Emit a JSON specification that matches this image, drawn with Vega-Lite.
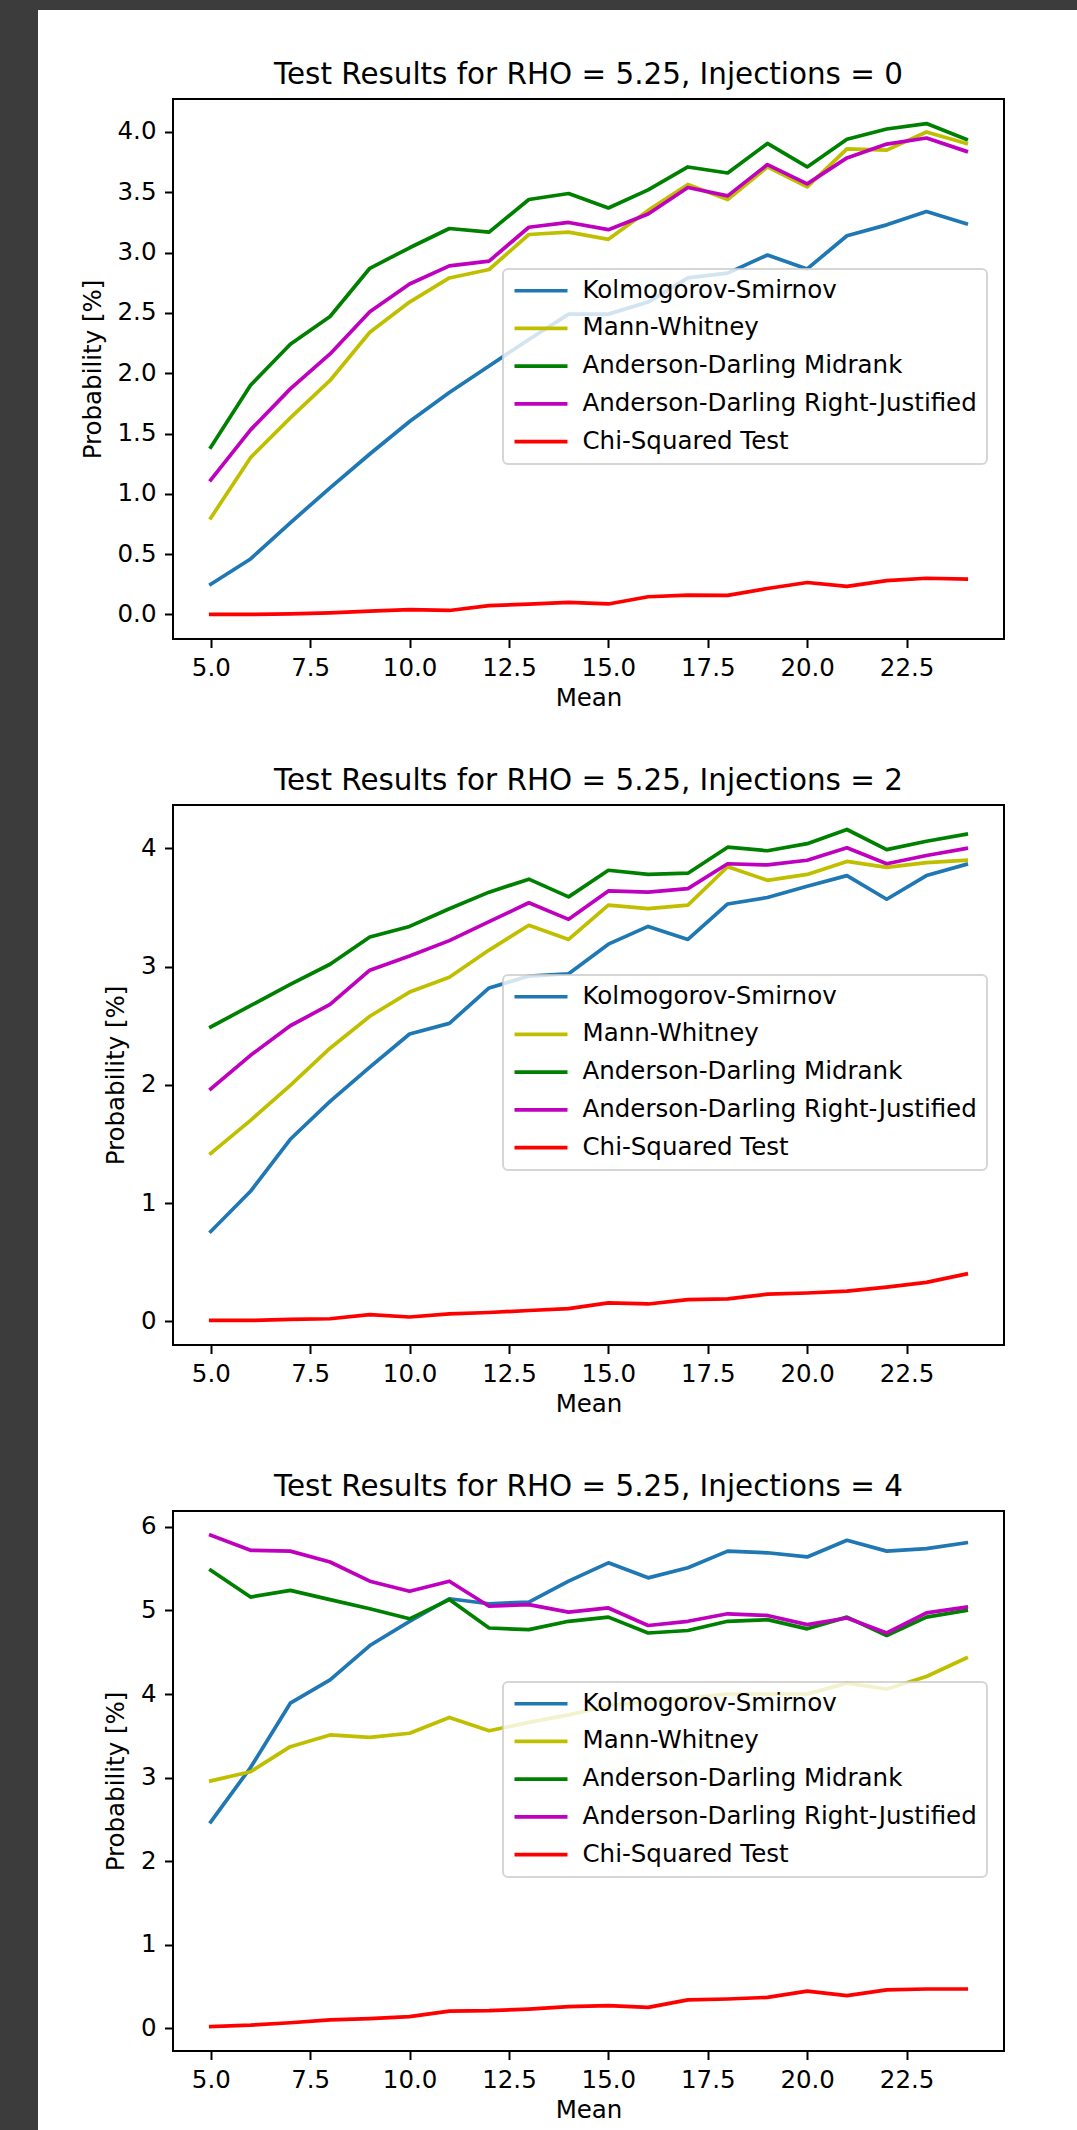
{
  "$schema": "https://vega.github.io/schema/vega-lite/v6.json",
  "padding": 0,
  "background": "white",
  "datasets": {
    "inj0": [
      {"mean": 5, "test": "Kolmogorov-Smirnov", "prob": 0.25},
      {"mean": 6, "test": "Kolmogorov-Smirnov", "prob": 0.46},
      {"mean": 7, "test": "Kolmogorov-Smirnov", "prob": 0.76},
      {"mean": 8, "test": "Kolmogorov-Smirnov", "prob": 1.05},
      {"mean": 9, "test": "Kolmogorov-Smirnov", "prob": 1.33},
      {"mean": 10, "test": "Kolmogorov-Smirnov", "prob": 1.6},
      {"mean": 11, "test": "Kolmogorov-Smirnov", "prob": 1.84},
      {"mean": 12, "test": "Kolmogorov-Smirnov", "prob": 2.06},
      {"mean": 13, "test": "Kolmogorov-Smirnov", "prob": 2.28},
      {"mean": 14, "test": "Kolmogorov-Smirnov", "prob": 2.49},
      {"mean": 15, "test": "Kolmogorov-Smirnov", "prob": 2.49},
      {"mean": 16, "test": "Kolmogorov-Smirnov", "prob": 2.59},
      {"mean": 17, "test": "Kolmogorov-Smirnov", "prob": 2.79},
      {"mean": 18, "test": "Kolmogorov-Smirnov", "prob": 2.83},
      {"mean": 19, "test": "Kolmogorov-Smirnov", "prob": 2.98},
      {"mean": 20, "test": "Kolmogorov-Smirnov", "prob": 2.865},
      {"mean": 21, "test": "Kolmogorov-Smirnov", "prob": 3.14},
      {"mean": 22, "test": "Kolmogorov-Smirnov", "prob": 3.23},
      {"mean": 23, "test": "Kolmogorov-Smirnov", "prob": 3.34},
      {"mean": 24, "test": "Kolmogorov-Smirnov", "prob": 3.24},
      {"mean": 5, "test": "Mann-Whitney", "prob": 0.8},
      {"mean": 6, "test": "Mann-Whitney", "prob": 1.3},
      {"mean": 7, "test": "Mann-Whitney", "prob": 1.63},
      {"mean": 8, "test": "Mann-Whitney", "prob": 1.94},
      {"mean": 9, "test": "Mann-Whitney", "prob": 2.34},
      {"mean": 10, "test": "Mann-Whitney", "prob": 2.59},
      {"mean": 11, "test": "Mann-Whitney", "prob": 2.79},
      {"mean": 12, "test": "Mann-Whitney", "prob": 2.86},
      {"mean": 13, "test": "Mann-Whitney", "prob": 3.15},
      {"mean": 14, "test": "Mann-Whitney", "prob": 3.17},
      {"mean": 15, "test": "Mann-Whitney", "prob": 3.11},
      {"mean": 16, "test": "Mann-Whitney", "prob": 3.35},
      {"mean": 17, "test": "Mann-Whitney", "prob": 3.565},
      {"mean": 18, "test": "Mann-Whitney", "prob": 3.44},
      {"mean": 19, "test": "Mann-Whitney", "prob": 3.71},
      {"mean": 20, "test": "Mann-Whitney", "prob": 3.545},
      {"mean": 21, "test": "Mann-Whitney", "prob": 3.86},
      {"mean": 22, "test": "Mann-Whitney", "prob": 3.85},
      {"mean": 23, "test": "Mann-Whitney", "prob": 4.0},
      {"mean": 24, "test": "Mann-Whitney", "prob": 3.905},
      {"mean": 5, "test": "Anderson-Darling Midrank", "prob": 1.387},
      {"mean": 6, "test": "Anderson-Darling Midrank", "prob": 1.9},
      {"mean": 7, "test": "Anderson-Darling Midrank", "prob": 2.24},
      {"mean": 8, "test": "Anderson-Darling Midrank", "prob": 2.47},
      {"mean": 9, "test": "Anderson-Darling Midrank", "prob": 2.87},
      {"mean": 10, "test": "Anderson-Darling Midrank", "prob": 3.04},
      {"mean": 11, "test": "Anderson-Darling Midrank", "prob": 3.2},
      {"mean": 12, "test": "Anderson-Darling Midrank", "prob": 3.17},
      {"mean": 13, "test": "Anderson-Darling Midrank", "prob": 3.44},
      {"mean": 14, "test": "Anderson-Darling Midrank", "prob": 3.49},
      {"mean": 15, "test": "Anderson-Darling Midrank", "prob": 3.37},
      {"mean": 16, "test": "Anderson-Darling Midrank", "prob": 3.52},
      {"mean": 17, "test": "Anderson-Darling Midrank", "prob": 3.71},
      {"mean": 18, "test": "Anderson-Darling Midrank", "prob": 3.66},
      {"mean": 19, "test": "Anderson-Darling Midrank", "prob": 3.905},
      {"mean": 20, "test": "Anderson-Darling Midrank", "prob": 3.71},
      {"mean": 21, "test": "Anderson-Darling Midrank", "prob": 3.94},
      {"mean": 22, "test": "Anderson-Darling Midrank", "prob": 4.025},
      {"mean": 23, "test": "Anderson-Darling Midrank", "prob": 4.07},
      {"mean": 24, "test": "Anderson-Darling Midrank", "prob": 3.94},
      {"mean": 5, "test": "Anderson-Darling Right-Justified", "prob": 1.115},
      {"mean": 6, "test": "Anderson-Darling Right-Justified", "prob": 1.53},
      {"mean": 7, "test": "Anderson-Darling Right-Justified", "prob": 1.87},
      {"mean": 8, "test": "Anderson-Darling Right-Justified", "prob": 2.16},
      {"mean": 9, "test": "Anderson-Darling Right-Justified", "prob": 2.51},
      {"mean": 10, "test": "Anderson-Darling Right-Justified", "prob": 2.74},
      {"mean": 11, "test": "Anderson-Darling Right-Justified", "prob": 2.89},
      {"mean": 12, "test": "Anderson-Darling Right-Justified", "prob": 2.93},
      {"mean": 13, "test": "Anderson-Darling Right-Justified", "prob": 3.21},
      {"mean": 14, "test": "Anderson-Darling Right-Justified", "prob": 3.25},
      {"mean": 15, "test": "Anderson-Darling Right-Justified", "prob": 3.19},
      {"mean": 16, "test": "Anderson-Darling Right-Justified", "prob": 3.32},
      {"mean": 17, "test": "Anderson-Darling Right-Justified", "prob": 3.54},
      {"mean": 18, "test": "Anderson-Darling Right-Justified", "prob": 3.47},
      {"mean": 19, "test": "Anderson-Darling Right-Justified", "prob": 3.73},
      {"mean": 20, "test": "Anderson-Darling Right-Justified", "prob": 3.57},
      {"mean": 21, "test": "Anderson-Darling Right-Justified", "prob": 3.785},
      {"mean": 22, "test": "Anderson-Darling Right-Justified", "prob": 3.9},
      {"mean": 23, "test": "Anderson-Darling Right-Justified", "prob": 3.95},
      {"mean": 24, "test": "Anderson-Darling Right-Justified", "prob": 3.84},
      {"mean": 5, "test": "Chi-Squared Test", "prob": 0.0},
      {"mean": 6, "test": "Chi-Squared Test", "prob": 0.0},
      {"mean": 7, "test": "Chi-Squared Test", "prob": 0.005},
      {"mean": 8, "test": "Chi-Squared Test", "prob": 0.013},
      {"mean": 9, "test": "Chi-Squared Test", "prob": 0.027},
      {"mean": 10, "test": "Chi-Squared Test", "prob": 0.04},
      {"mean": 11, "test": "Chi-Squared Test", "prob": 0.033},
      {"mean": 12, "test": "Chi-Squared Test", "prob": 0.073},
      {"mean": 13, "test": "Chi-Squared Test", "prob": 0.085},
      {"mean": 14, "test": "Chi-Squared Test", "prob": 0.1},
      {"mean": 15, "test": "Chi-Squared Test", "prob": 0.087},
      {"mean": 16, "test": "Chi-Squared Test", "prob": 0.147},
      {"mean": 17, "test": "Chi-Squared Test", "prob": 0.16},
      {"mean": 18, "test": "Chi-Squared Test", "prob": 0.158},
      {"mean": 19, "test": "Chi-Squared Test", "prob": 0.215},
      {"mean": 20, "test": "Chi-Squared Test", "prob": 0.265},
      {"mean": 21, "test": "Chi-Squared Test", "prob": 0.233},
      {"mean": 22, "test": "Chi-Squared Test", "prob": 0.28},
      {"mean": 23, "test": "Chi-Squared Test", "prob": 0.3},
      {"mean": 24, "test": "Chi-Squared Test", "prob": 0.293}
    ],
    "inj2": [
      {"mean": 5, "test": "Kolmogorov-Smirnov", "prob": 0.76},
      {"mean": 6, "test": "Kolmogorov-Smirnov", "prob": 1.1},
      {"mean": 7, "test": "Kolmogorov-Smirnov", "prob": 1.54},
      {"mean": 8, "test": "Kolmogorov-Smirnov", "prob": 1.86},
      {"mean": 9, "test": "Kolmogorov-Smirnov", "prob": 2.15},
      {"mean": 10, "test": "Kolmogorov-Smirnov", "prob": 2.43},
      {"mean": 11, "test": "Kolmogorov-Smirnov", "prob": 2.52},
      {"mean": 12, "test": "Kolmogorov-Smirnov", "prob": 2.82},
      {"mean": 13, "test": "Kolmogorov-Smirnov", "prob": 2.92},
      {"mean": 14, "test": "Kolmogorov-Smirnov", "prob": 2.94},
      {"mean": 15, "test": "Kolmogorov-Smirnov", "prob": 3.19},
      {"mean": 16, "test": "Kolmogorov-Smirnov", "prob": 3.34},
      {"mean": 17, "test": "Kolmogorov-Smirnov", "prob": 3.23},
      {"mean": 18, "test": "Kolmogorov-Smirnov", "prob": 3.53},
      {"mean": 19, "test": "Kolmogorov-Smirnov", "prob": 3.585},
      {"mean": 20, "test": "Kolmogorov-Smirnov", "prob": 3.68},
      {"mean": 21, "test": "Kolmogorov-Smirnov", "prob": 3.77},
      {"mean": 22, "test": "Kolmogorov-Smirnov", "prob": 3.57},
      {"mean": 23, "test": "Kolmogorov-Smirnov", "prob": 3.77},
      {"mean": 24, "test": "Kolmogorov-Smirnov", "prob": 3.865},
      {"mean": 5, "test": "Mann-Whitney", "prob": 1.42},
      {"mean": 6, "test": "Mann-Whitney", "prob": 1.7},
      {"mean": 7, "test": "Mann-Whitney", "prob": 1.995},
      {"mean": 8, "test": "Mann-Whitney", "prob": 2.31},
      {"mean": 9, "test": "Mann-Whitney", "prob": 2.58},
      {"mean": 10, "test": "Mann-Whitney", "prob": 2.785},
      {"mean": 11, "test": "Mann-Whitney", "prob": 2.91},
      {"mean": 12, "test": "Mann-Whitney", "prob": 3.14},
      {"mean": 13, "test": "Mann-Whitney", "prob": 3.35},
      {"mean": 14, "test": "Mann-Whitney", "prob": 3.23},
      {"mean": 15, "test": "Mann-Whitney", "prob": 3.52},
      {"mean": 16, "test": "Mann-Whitney", "prob": 3.49},
      {"mean": 17, "test": "Mann-Whitney", "prob": 3.52},
      {"mean": 18, "test": "Mann-Whitney", "prob": 3.845},
      {"mean": 19, "test": "Mann-Whitney", "prob": 3.73},
      {"mean": 20, "test": "Mann-Whitney", "prob": 3.78},
      {"mean": 21, "test": "Mann-Whitney", "prob": 3.89},
      {"mean": 22, "test": "Mann-Whitney", "prob": 3.84},
      {"mean": 23, "test": "Mann-Whitney", "prob": 3.88},
      {"mean": 24, "test": "Mann-Whitney", "prob": 3.9},
      {"mean": 5, "test": "Anderson-Darling Midrank", "prob": 2.49},
      {"mean": 6, "test": "Anderson-Darling Midrank", "prob": 2.67},
      {"mean": 7, "test": "Anderson-Darling Midrank", "prob": 2.85},
      {"mean": 8, "test": "Anderson-Darling Midrank", "prob": 3.02},
      {"mean": 9, "test": "Anderson-Darling Midrank", "prob": 3.25},
      {"mean": 10, "test": "Anderson-Darling Midrank", "prob": 3.34},
      {"mean": 11, "test": "Anderson-Darling Midrank", "prob": 3.49},
      {"mean": 12, "test": "Anderson-Darling Midrank", "prob": 3.63},
      {"mean": 13, "test": "Anderson-Darling Midrank", "prob": 3.74},
      {"mean": 14, "test": "Anderson-Darling Midrank", "prob": 3.59},
      {"mean": 15, "test": "Anderson-Darling Midrank", "prob": 3.815},
      {"mean": 16, "test": "Anderson-Darling Midrank", "prob": 3.78},
      {"mean": 17, "test": "Anderson-Darling Midrank", "prob": 3.79},
      {"mean": 18, "test": "Anderson-Darling Midrank", "prob": 4.01},
      {"mean": 19, "test": "Anderson-Darling Midrank", "prob": 3.98},
      {"mean": 20, "test": "Anderson-Darling Midrank", "prob": 4.04},
      {"mean": 21, "test": "Anderson-Darling Midrank", "prob": 4.16},
      {"mean": 22, "test": "Anderson-Darling Midrank", "prob": 3.99},
      {"mean": 23, "test": "Anderson-Darling Midrank", "prob": 4.06},
      {"mean": 24, "test": "Anderson-Darling Midrank", "prob": 4.12},
      {"mean": 5, "test": "Anderson-Darling Right-Justified", "prob": 1.965},
      {"mean": 6, "test": "Anderson-Darling Right-Justified", "prob": 2.25},
      {"mean": 7, "test": "Anderson-Darling Right-Justified", "prob": 2.5},
      {"mean": 8, "test": "Anderson-Darling Right-Justified", "prob": 2.68},
      {"mean": 9, "test": "Anderson-Darling Right-Justified", "prob": 2.97},
      {"mean": 10, "test": "Anderson-Darling Right-Justified", "prob": 3.09},
      {"mean": 11, "test": "Anderson-Darling Right-Justified", "prob": 3.22},
      {"mean": 12, "test": "Anderson-Darling Right-Justified", "prob": 3.38},
      {"mean": 13, "test": "Anderson-Darling Right-Justified", "prob": 3.54},
      {"mean": 14, "test": "Anderson-Darling Right-Justified", "prob": 3.4},
      {"mean": 15, "test": "Anderson-Darling Right-Justified", "prob": 3.64},
      {"mean": 16, "test": "Anderson-Darling Right-Justified", "prob": 3.63},
      {"mean": 17, "test": "Anderson-Darling Right-Justified", "prob": 3.66},
      {"mean": 18, "test": "Anderson-Darling Right-Justified", "prob": 3.87},
      {"mean": 19, "test": "Anderson-Darling Right-Justified", "prob": 3.86},
      {"mean": 20, "test": "Anderson-Darling Right-Justified", "prob": 3.9},
      {"mean": 21, "test": "Anderson-Darling Right-Justified", "prob": 4.005},
      {"mean": 22, "test": "Anderson-Darling Right-Justified", "prob": 3.87},
      {"mean": 23, "test": "Anderson-Darling Right-Justified", "prob": 3.94},
      {"mean": 24, "test": "Anderson-Darling Right-Justified", "prob": 4.0},
      {"mean": 5, "test": "Chi-Squared Test", "prob": 0.008},
      {"mean": 6, "test": "Chi-Squared Test", "prob": 0.008},
      {"mean": 7, "test": "Chi-Squared Test", "prob": 0.016},
      {"mean": 8, "test": "Chi-Squared Test", "prob": 0.022},
      {"mean": 9, "test": "Chi-Squared Test", "prob": 0.057},
      {"mean": 10, "test": "Chi-Squared Test", "prob": 0.037},
      {"mean": 11, "test": "Chi-Squared Test", "prob": 0.063},
      {"mean": 12, "test": "Chi-Squared Test", "prob": 0.075},
      {"mean": 13, "test": "Chi-Squared Test", "prob": 0.092},
      {"mean": 14, "test": "Chi-Squared Test", "prob": 0.107},
      {"mean": 15, "test": "Chi-Squared Test", "prob": 0.156},
      {"mean": 16, "test": "Chi-Squared Test", "prob": 0.147},
      {"mean": 17, "test": "Chi-Squared Test", "prob": 0.183},
      {"mean": 18, "test": "Chi-Squared Test", "prob": 0.19},
      {"mean": 19, "test": "Chi-Squared Test", "prob": 0.23},
      {"mean": 20, "test": "Chi-Squared Test", "prob": 0.24},
      {"mean": 21, "test": "Chi-Squared Test", "prob": 0.256},
      {"mean": 22, "test": "Chi-Squared Test", "prob": 0.29},
      {"mean": 23, "test": "Chi-Squared Test", "prob": 0.33},
      {"mean": 24, "test": "Chi-Squared Test", "prob": 0.4}
    ],
    "inj4": [
      {"mean": 5, "test": "Kolmogorov-Smirnov", "prob": 2.47},
      {"mean": 6, "test": "Kolmogorov-Smirnov", "prob": 3.12},
      {"mean": 7, "test": "Kolmogorov-Smirnov", "prob": 3.89},
      {"mean": 8, "test": "Kolmogorov-Smirnov", "prob": 4.17},
      {"mean": 9, "test": "Kolmogorov-Smirnov", "prob": 4.58},
      {"mean": 10, "test": "Kolmogorov-Smirnov", "prob": 4.87},
      {"mean": 11, "test": "Kolmogorov-Smirnov", "prob": 5.14},
      {"mean": 12, "test": "Kolmogorov-Smirnov", "prob": 5.08},
      {"mean": 13, "test": "Kolmogorov-Smirnov", "prob": 5.1},
      {"mean": 14, "test": "Kolmogorov-Smirnov", "prob": 5.35},
      {"mean": 15, "test": "Kolmogorov-Smirnov", "prob": 5.57},
      {"mean": 16, "test": "Kolmogorov-Smirnov", "prob": 5.39},
      {"mean": 17, "test": "Kolmogorov-Smirnov", "prob": 5.51},
      {"mean": 18, "test": "Kolmogorov-Smirnov", "prob": 5.71},
      {"mean": 19, "test": "Kolmogorov-Smirnov", "prob": 5.69},
      {"mean": 20, "test": "Kolmogorov-Smirnov", "prob": 5.64},
      {"mean": 21, "test": "Kolmogorov-Smirnov", "prob": 5.84},
      {"mean": 22, "test": "Kolmogorov-Smirnov", "prob": 5.71},
      {"mean": 23, "test": "Kolmogorov-Smirnov", "prob": 5.74},
      {"mean": 24, "test": "Kolmogorov-Smirnov", "prob": 5.81},
      {"mean": 5, "test": "Mann-Whitney", "prob": 2.96},
      {"mean": 6, "test": "Mann-Whitney", "prob": 3.07},
      {"mean": 7, "test": "Mann-Whitney", "prob": 3.37},
      {"mean": 8, "test": "Mann-Whitney", "prob": 3.51},
      {"mean": 9, "test": "Mann-Whitney", "prob": 3.48},
      {"mean": 10, "test": "Mann-Whitney", "prob": 3.53},
      {"mean": 11, "test": "Mann-Whitney", "prob": 3.72},
      {"mean": 12, "test": "Mann-Whitney", "prob": 3.56},
      {"mean": 13, "test": "Mann-Whitney", "prob": 3.66},
      {"mean": 14, "test": "Mann-Whitney", "prob": 3.75},
      {"mean": 15, "test": "Mann-Whitney", "prob": 3.86},
      {"mean": 16, "test": "Mann-Whitney", "prob": 3.91},
      {"mean": 17, "test": "Mann-Whitney", "prob": 3.95},
      {"mean": 18, "test": "Mann-Whitney", "prob": 4.0},
      {"mean": 19, "test": "Mann-Whitney", "prob": 4.0},
      {"mean": 20, "test": "Mann-Whitney", "prob": 4.0},
      {"mean": 21, "test": "Mann-Whitney", "prob": 4.13},
      {"mean": 22, "test": "Mann-Whitney", "prob": 4.06},
      {"mean": 23, "test": "Mann-Whitney", "prob": 4.21},
      {"mean": 24, "test": "Mann-Whitney", "prob": 4.43},
      {"mean": 5, "test": "Anderson-Darling Midrank", "prob": 5.48},
      {"mean": 6, "test": "Anderson-Darling Midrank", "prob": 5.16},
      {"mean": 7, "test": "Anderson-Darling Midrank", "prob": 5.24},
      {"mean": 8, "test": "Anderson-Darling Midrank", "prob": 5.13},
      {"mean": 9, "test": "Anderson-Darling Midrank", "prob": 5.02},
      {"mean": 10, "test": "Anderson-Darling Midrank", "prob": 4.9},
      {"mean": 11, "test": "Anderson-Darling Midrank", "prob": 5.13},
      {"mean": 12, "test": "Anderson-Darling Midrank", "prob": 4.79},
      {"mean": 13, "test": "Anderson-Darling Midrank", "prob": 4.77},
      {"mean": 14, "test": "Anderson-Darling Midrank", "prob": 4.87},
      {"mean": 15, "test": "Anderson-Darling Midrank", "prob": 4.92},
      {"mean": 16, "test": "Anderson-Darling Midrank", "prob": 4.73},
      {"mean": 17, "test": "Anderson-Darling Midrank", "prob": 4.76},
      {"mean": 18, "test": "Anderson-Darling Midrank", "prob": 4.87},
      {"mean": 19, "test": "Anderson-Darling Midrank", "prob": 4.89},
      {"mean": 20, "test": "Anderson-Darling Midrank", "prob": 4.78},
      {"mean": 21, "test": "Anderson-Darling Midrank", "prob": 4.92},
      {"mean": 22, "test": "Anderson-Darling Midrank", "prob": 4.7},
      {"mean": 23, "test": "Anderson-Darling Midrank", "prob": 4.92},
      {"mean": 24, "test": "Anderson-Darling Midrank", "prob": 5.0},
      {"mean": 5, "test": "Anderson-Darling Right-Justified", "prob": 5.9},
      {"mean": 6, "test": "Anderson-Darling Right-Justified", "prob": 5.72},
      {"mean": 7, "test": "Anderson-Darling Right-Justified", "prob": 5.71},
      {"mean": 8, "test": "Anderson-Darling Right-Justified", "prob": 5.58},
      {"mean": 9, "test": "Anderson-Darling Right-Justified", "prob": 5.35},
      {"mean": 10, "test": "Anderson-Darling Right-Justified", "prob": 5.23},
      {"mean": 11, "test": "Anderson-Darling Right-Justified", "prob": 5.35},
      {"mean": 12, "test": "Anderson-Darling Right-Justified", "prob": 5.05},
      {"mean": 13, "test": "Anderson-Darling Right-Justified", "prob": 5.07},
      {"mean": 14, "test": "Anderson-Darling Right-Justified", "prob": 4.98},
      {"mean": 15, "test": "Anderson-Darling Right-Justified", "prob": 5.03},
      {"mean": 16, "test": "Anderson-Darling Right-Justified", "prob": 4.82},
      {"mean": 17, "test": "Anderson-Darling Right-Justified", "prob": 4.87},
      {"mean": 18, "test": "Anderson-Darling Right-Justified", "prob": 4.96},
      {"mean": 19, "test": "Anderson-Darling Right-Justified", "prob": 4.94},
      {"mean": 20, "test": "Anderson-Darling Right-Justified", "prob": 4.83},
      {"mean": 21, "test": "Anderson-Darling Right-Justified", "prob": 4.91},
      {"mean": 22, "test": "Anderson-Darling Right-Justified", "prob": 4.73},
      {"mean": 23, "test": "Anderson-Darling Right-Justified", "prob": 4.97},
      {"mean": 24, "test": "Anderson-Darling Right-Justified", "prob": 5.04},
      {"mean": 5, "test": "Chi-Squared Test", "prob": 0.02},
      {"mean": 6, "test": "Chi-Squared Test", "prob": 0.037},
      {"mean": 7, "test": "Chi-Squared Test", "prob": 0.066},
      {"mean": 8, "test": "Chi-Squared Test", "prob": 0.1},
      {"mean": 9, "test": "Chi-Squared Test", "prob": 0.115},
      {"mean": 10, "test": "Chi-Squared Test", "prob": 0.14},
      {"mean": 11, "test": "Chi-Squared Test", "prob": 0.206},
      {"mean": 12, "test": "Chi-Squared Test", "prob": 0.21},
      {"mean": 13, "test": "Chi-Squared Test", "prob": 0.23},
      {"mean": 14, "test": "Chi-Squared Test", "prob": 0.26},
      {"mean": 15, "test": "Chi-Squared Test", "prob": 0.27},
      {"mean": 16, "test": "Chi-Squared Test", "prob": 0.25},
      {"mean": 17, "test": "Chi-Squared Test", "prob": 0.34},
      {"mean": 18, "test": "Chi-Squared Test", "prob": 0.35},
      {"mean": 19, "test": "Chi-Squared Test", "prob": 0.37},
      {"mean": 20, "test": "Chi-Squared Test", "prob": 0.445},
      {"mean": 21, "test": "Chi-Squared Test", "prob": 0.39},
      {"mean": 22, "test": "Chi-Squared Test", "prob": 0.46},
      {"mean": 23, "test": "Chi-Squared Test", "prob": 0.47},
      {"mean": 24, "test": "Chi-Squared Test", "prob": 0.47}
    ]
  },
  "vconcat": [
    {
      "width": 1077,
      "height": 10,
      "data": {"values": []},
      "mark": "point",
      "encoding": {},
      "view": {"fill": "#3c3c3c", "stroke": null}
    },
    {
      "spacing": 41,
      "hconcat": [
        {
          "width": 38,
          "height": 2120,
          "data": {"values": []},
          "mark": "point",
          "encoding": {},
          "view": {"fill": "#3c3c3c", "stroke": null}
        },
        {
          "spacing": 0,
          "vconcat": [
            {
              "width": 831,
              "height": 48,
              "data": {"values": []},
              "mark": "point",
              "encoding": {},
              "view": {"fill": "white", "stroke": null}
            },
            {
              "spacing": 53,
              "resolve": {
                "scale": {"x": "independent", "y": "independent", "color": "independent"},
                "legend": {"color": "independent"}
              },
              "vconcat": [
                {
                  "width": 831,
                  "height": 540,
                  "title": {"text": "Test Results for RHO = 5.25, Injections = 0"},
                  "data": {"name": "inj0"},
                  "mark": {"type": "line", "strokeWidth": 3.7, "strokeCap": "square", "strokeJoin": "round"},
                  "encoding": {
                    "x": {"field": "mean", "type": "quantitative", "scale": {"domain": [4.05, 24.95], "nice": false, "zero": false}, "axis": {"values": [5, 7.5, 10, 12.5, 15, 17.5, 20, 22.5], "format": ".1f", "title": "Mean"}},
                    "y": {"field": "prob", "type": "quantitative", "scale": {"domain": [-0.2035, 4.2735], "nice": false, "zero": false}, "axis": {"values": [0, 0.5, 1, 1.5, 2, 2.5, 3, 3.5, 4], "format": ".1f", "title": "Probability [%]"}},
                    "color": {"field": "test", "type": "nominal", "sort": null,
                      "scale": {"domain": ["Kolmogorov-Smirnov", "Mann-Whitney", "Anderson-Darling Midrank", "Anderson-Darling Right-Justified", "Chi-Squared Test"], "range": ["#1f77b4", "#bfbf00", "#008000", "#bf00bf", "#ff0000"]},
                      "legend": {"orient": "none", "legendX": 330, "legendY": 170}}
                  }
                },
                {
                  "width": 831,
                  "height": 540,
                  "title": {"text": "Test Results for RHO = 5.25, Injections = 2"},
                  "data": {"name": "inj2"},
                  "mark": {"type": "line", "strokeWidth": 3.7, "strokeCap": "square", "strokeJoin": "round"},
                  "encoding": {
                    "x": {"field": "mean", "type": "quantitative", "scale": {"domain": [4.05, 24.95], "nice": false, "zero": false}, "axis": {"values": [5, 7.5, 10, 12.5, 15, 17.5, 20, 22.5], "format": ".1f", "title": "Mean"}},
                    "y": {"field": "prob", "type": "quantitative", "scale": {"domain": [-0.2, 4.367], "nice": false, "zero": false}, "axis": {"values": [0, 1, 2, 3, 4], "format": "d", "title": "Probability [%]"}},
                    "color": {"field": "test", "type": "nominal", "sort": null,
                      "scale": {"domain": ["Kolmogorov-Smirnov", "Mann-Whitney", "Anderson-Darling Midrank", "Anderson-Darling Right-Justified", "Chi-Squared Test"], "range": ["#1f77b4", "#bfbf00", "#008000", "#bf00bf", "#ff0000"]},
                      "legend": {"orient": "none", "legendX": 330, "legendY": 170}}
                  }
                },
                {
                  "width": 831,
                  "height": 540,
                  "title": {"text": "Test Results for RHO = 5.25, Injections = 4"},
                  "data": {"name": "inj4"},
                  "mark": {"type": "line", "strokeWidth": 3.7, "strokeCap": "square", "strokeJoin": "round"},
                  "encoding": {
                    "x": {"field": "mean", "type": "quantitative", "scale": {"domain": [4.05, 24.95], "nice": false, "zero": false}, "axis": {"values": [5, 7.5, 10, 12.5, 15, 17.5, 20, 22.5], "format": ".1f", "title": "Mean"}},
                    "y": {"field": "prob", "type": "quantitative", "scale": {"domain": [-0.272, 6.19], "nice": false, "zero": false}, "axis": {"values": [0, 1, 2, 3, 4, 5, 6], "format": "d", "title": "Probability [%]"}},
                    "color": {"field": "test", "type": "nominal", "sort": null,
                      "scale": {"domain": ["Kolmogorov-Smirnov", "Mann-Whitney", "Anderson-Darling Midrank", "Anderson-Darling Right-Justified", "Chi-Squared Test"], "range": ["#1f77b4", "#bfbf00", "#008000", "#bf00bf", "#ff0000"]},
                      "legend": {"orient": "none", "legendX": 330, "legendY": 171}}
                  }
                }
              ]
            }
          ]
        }
      ]
    }
  ],
  "spacing": 0,
  "config": {
    "font": "DejaVu Sans",
    "view": {"stroke": "black", "strokeWidth": 2},
    "axis": {
      "domain": false,
      "grid": false,
      "ticks": true,
      "tickColor": "black",
      "tickWidth": 2,
      "tickSize": 8.5,
      "labelFont": "DejaVu Sans",
      "labelFontSize": 24.5,
      "labelColor": "black",
      "labelPadding": 8.5,
      "labelFlush": false,
      "labelOverlap": false,
      "titleFont": "DejaVu Sans",
      "titleFontSize": 24.5,
      "titleFontWeight": "normal",
      "titleColor": "black"
    },
    "axisX": {"titlePadding": 7},
    "axisY": {"titlePadding": 12},
    "title": {
      "font": "DejaVu Sans",
      "fontSize": 29.4,
      "fontWeight": "normal",
      "color": "black",
      "anchor": "middle",
      "frame": "group",
      "baseline": "alphabetic",
      "offset": 9
    },
    "legend": {
      "title": null,
      "symbolType": "stroke",
      "symbolSize": 2809,
      "symbolStrokeWidth": 3.7,
      "symbolOpacity": 1,
      "labelFont": "DejaVu Sans",
      "labelFontSize": 24.5,
      "labelColor": "black",
      "labelLimit": 800,
      "labelOffset": 13,
      "rowPadding": 11.7,
      "padding": 9.5,
      "clipHeight": 24.5,
      "fillColor": "rgba(255,255,255,0.8)",
      "strokeColor": "rgba(204,204,204,0.8)",
      "cornerRadius": 5,
      "strokeWidth": 2
    }
  }
}
